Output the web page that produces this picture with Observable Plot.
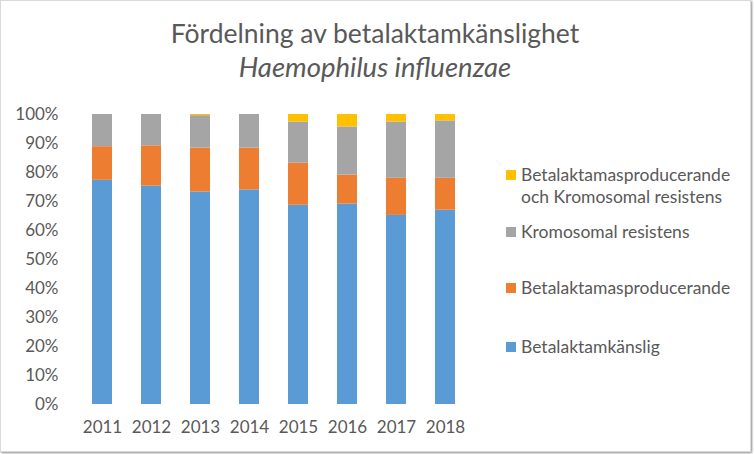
<!DOCTYPE html>
<html>
<head>
<meta charset="utf-8">
<script src="https://cdn.jsdelivr.net/npm/d3@7"></script>
<script src="https://cdn.jsdelivr.net/npm/@observablehq/plot@0.6"></script>
<style>
  html, body { margin: 0; padding: 0; background: #fff; }
  #chart { position: relative; width: 754px; height: 454px; overflow: hidden; font-family: Lato, "Open Sans", sans-serif; color: #595959; }
  #frame { position: absolute; left: 0; top: 0; width: 749px; height: 450px; border: 1px solid #d9d9d9; box-shadow: 1px 1px 2px #8c8c8c; }
  #title { position: absolute; left: 0; width: 750px; text-align: center; top: 17px; font-size: 26.5px; line-height: 32px; }
  #subtitle { position: absolute; left: 0; width: 750px; text-align: center; top: 50px; font-size: 27.5px; line-height: 33px; font-style: italic; }
  #plot { position: absolute; left: 0; top: 0; }
  .leg { position: absolute; left: 506px; font-size: 17.5px; line-height: 22px; }
  .sw { position: absolute; left: 0; top: 0; width: 10px; height: 10px; }
  .lt { position: absolute; left: 15px; white-space: nowrap; }
</style>
</head>
<body>
<div id="chart">
  <div id="frame"></div>
  <div id="plot"></div>
  <div id="title">Fördelning av betalaktamkänslighet</div>
  <div id="subtitle">Haemophilus influenzae</div>
  <div id="legend"></div>
</div>
<script>
const years = ["2011", "2012", "2013", "2014", "2015", "2016", "2017", "2018"];
const seriesNames = [
  "Betalaktamkänslig",
  "Betalaktamasproducerande",
  "Kromosomal resistens",
  "Betalaktamasproducerande och Kromosomal resistens"
];
const betalaktamkanslig = [77.3, 75.3, 73.3, 74.0, 68.7, 69.1, 65.2, 67.0];
const betalaktamasproducerande = [11.6, 13.9, 15.1, 14.4, 14.5, 10.0, 12.8, 11.0];
const kromosomalResistens = [11.1, 10.8, 11.2, 11.6, 14.2, 16.6, 19.4, 19.8];
const bada = [0.0, 0.0, 0.4, 0.0, 2.6, 4.3, 2.6, 2.2];
const colors = ["#5B9BD5", "#ED7D31", "#A5A5A5", "#FFC000"];
const yTicks = [0, 0.1, 0.2, 0.3, 0.4, 0.5, 0.6, 0.7, 0.8, 0.9, 1.0];

const seriesValues = [betalaktamkanslig, betalaktamasproducerande, kromosomalResistens, bada];
const data = [];
seriesValues.forEach((vals, si) => {
  vals.forEach((v, i) => data.push({year: years[i], series: seriesNames[si], value: v / 100}));
});

const plot = Plot.plot({
  width: 754,
  height: 454,
  marginLeft: 75,
  marginRight: 282,
  marginTop: 114,
  marginBottom: 50,
  style: {fontFamily: "Lato, 'Open Sans', sans-serif", fontSize: "17px", color: "#595959", background: "transparent"},
  x: {domain: years, paddingInner: 0.6, paddingOuter: 0.3, label: null, tickSize: 0, tickPadding: 16},
  y: {domain: [0, 1], ticks: yTicks, tickFormat: d3.format(".0%"), label: null, tickSize: 0, tickPadding: 17},
  color: {domain: seriesNames, range: colors},
  marks: [
    Plot.gridY(yTicks, {stroke: "#d9d9d9", strokeOpacity: 1, x1: 75, x2: 472}),
    Plot.barY(data, {x: "year", y: "value", fill: "series", order: seriesNames}),
    Plot.axisX({tickSize: 0, tickPadding: 16, fill: "#595959"}),
    Plot.axisY({ticks: yTicks, tickFormat: d3.format(".0%"), tickSize: 0, tickPadding: 17, fill: "#595959"})
  ]
});
document.getElementById("plot").appendChild(plot);

// Legend (HTML, beside the plot)
const legendItems = [
  {name: seriesNames[3], lines: ["Betalaktamasproducerande", "och Kromosomal resistens"], color: colors[3], top: 164},
  {name: seriesNames[2], lines: ["Kromosomal resistens"], color: colors[2], top: 221},
  {name: seriesNames[1], lines: ["Betalaktamasproducerande"], color: colors[1], top: 277},
  {name: seriesNames[0], lines: ["Betalaktamkänslig"], color: colors[0], top: 336}
];
const leg = document.getElementById("legend");
legendItems.forEach(it => {
  const d = document.createElement("div");
  d.className = "leg";
  d.style.top = it.top + "px";
  const sw = document.createElement("div");
  sw.className = "sw";
  sw.style.background = it.color;
  sw.style.top = "6px";
  d.appendChild(sw);
  const t = document.createElement("div");
  t.className = "lt";
  t.innerHTML = it.lines.join("<br>");
  d.appendChild(t);
  leg.appendChild(d);
});
</script>
</body>
</html>
